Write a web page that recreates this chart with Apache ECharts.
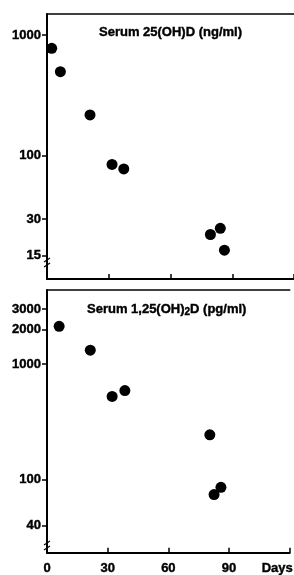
<!DOCTYPE html>
<html>
<head>
<meta charset="utf-8">
<script src="https://cdn.jsdelivr.net/npm/echarts@6/dist/echarts.min.js"></script>
<style>
  html, body { margin: 0; padding: 0; background: #fff; }
  #chart { width: 294px; height: 575px; }
</style>
</head>
<body>
<div id="chart"></div>
<script>
// serum 25(OH)D, ng/ml
const days25 = [2.3, 6.5, 20.9, 31.6, 37.3, 79.4, 84.2, 86.2]
const ohd25 = [776, 497, 218, 85, 78, 22.4, 25.2, 16.6]
// serum 1,25(OH)2D, pg/ml
const days125 = [6.0, 21.4, 32.2, 38.5, 80.5, 82.6, 86.0]
const ohd125 = [2128, 1322, 525, 590, 244, 74, 85.5]

const xTicks = [0, 30, 60, 90]
const yTicks25 = [15, 30, 100, 1000]
const yTicks125 = [40, 100, 1000, 2000, 3000]

const FONT = 'Liberation Sans'
const black = '#000'

// slightly heavier text, the original is a dense condensed bold
const textBase = {
  color: black, fontFamily: FONT, fontWeight: 'bold', fontSize: 13,
  textBorderColor: black, textBorderWidth: 0.4,
}

function pairs(xs, ys) {
  return xs.map((x, i) => [x, ys[i]])
}

function leftAxis(gridIndex, min, max, ticks) {
  return {
    type: 'log', logBase: 10, gridIndex, min, max, position: 'left',
    axisLine: { show: true, lineStyle: { color: black, width: 2 } },
    axisTick: { show: true, inside: false, length: 5, customValues: ticks, lineStyle: { color: black, width: 1.5 } },
    axisLabel: {
      show: true, customValues: ticks, margin: 6,
      ...textBase,
      formatter: (v) => String(Math.round(v)),
    },
    splitLine: { show: false },
    minorTick: { show: false },
  }
}

function rightAxis(gridIndex, min, max, ticks) {
  return {
    type: 'log', logBase: 10, gridIndex, min, max, position: 'right',
    axisLine: { show: false },
    axisTick: { show: true, inside: true, length: 5, customValues: ticks, lineStyle: { color: black, width: 1.5 } },
    axisLabel: { show: false },
    splitLine: { show: false },
  }
}

function bottomAxis(gridIndex, withLabels) {
  return {
    type: 'value', gridIndex, min: 0, max: 120, interval: 30, position: 'bottom',
    axisLine: { show: true, onZero: false, lineStyle: { color: black, width: 2 } },
    axisTick: { show: true, inside: true, length: 5, lineStyle: { color: black, width: 1.5 } },
    axisLabel: {
      show: withLabels, customValues: xTicks, margin: 9,
      ...textBase,
    },
    name: withLabels ? 'Days' : '',
    nameLocation: 'end',
    nameGap: -28,
    nameTextStyle: {
      ...textBase,
      verticalAlign: 'top', padding: [9, 0, 0, 0],
    },
    splitLine: { show: false },
  }
}

function topBorder(gridIndex) {
  return {
    type: 'value', gridIndex, min: 0, max: 120, position: 'top',
    axisLine: { show: true, onZero: false, lineStyle: { color: black, width: 1.5 } },
    axisTick: { show: false },
    axisLabel: { show: false },
    splitLine: { show: false },
  }
}

const titleStyle = { ...textBase }

const option = {
  backgroundColor: '#fff',
  animation: false,
  title: [
    {
      text: 'Serum 25(OH)D (ng/ml)',
      left: 99, top: 26, padding: 0,
      textStyle: titleStyle,
    },
    {
      text: '{a|Serum 1,25(OH)}{s|2}{a|D (pg/ml)}',
      left: 87, top: 302, padding: 0,
      textStyle: {
        ...titleStyle,
        rich: {
          a: { ...titleStyle, lineHeight: 15 },
          s: { ...titleStyle, fontSize: 10, lineHeight: 8, verticalAlign: 'bottom' },
        },
      },
    },
  ],
  grid: [
    { left: 47, right: 0, top: 14, height: 265 },
    { left: 47, right: 0, top: 290, height: 269 },
  ],
  xAxis: [bottomAxis(0, false), topBorder(0), bottomAxis(1, true), topBorder(1)],
  yAxis: [
    leftAxis(0, 9.6, 1490, yTicks25),
    rightAxis(0, 9.6, 1490, yTicks25),
    leftAxis(1, 23.1, 4400, yTicks125),
    rightAxis(1, 23.1, 4400, yTicks125),
  ],
  series: [
    {
      type: 'scatter', xAxisIndex: 0, yAxisIndex: 0,
      data: pairs(days25, ohd25),
      symbolSize: 11, itemStyle: { color: black, opacity: 1 },
    },
    {
      type: 'scatter', xAxisIndex: 2, yAxisIndex: 2,
      data: pairs(days125, ohd125),
      symbolSize: 11, itemStyle: { color: black, opacity: 1 },
    },
  ],
  // axis break marks on the left axes
  graphic: [
    { type: 'rect', shape: { x: 45, y: 260, width: 5, height: 5 }, style: { fill: '#fff' } },
    { type: 'line', shape: { x1: 44, y1: 262, x2: 50, y2: 258 }, style: { stroke: black, lineWidth: 1.2 } },
    { type: 'line', shape: { x1: 44, y1: 267, x2: 50, y2: 263 }, style: { stroke: black, lineWidth: 1.2 } },
    { type: 'rect', shape: { x: 45, y: 543, width: 5, height: 5 }, style: { fill: '#fff' } },
    { type: 'line', shape: { x1: 44, y1: 545, x2: 50, y2: 541 }, style: { stroke: black, lineWidth: 1.2 } },
    { type: 'line', shape: { x1: 44, y1: 550, x2: 50, y2: 546 }, style: { stroke: black, lineWidth: 1.2 } },
  ],
}

const chart = echarts.init(document.getElementById('chart'), null, { renderer: 'canvas' })
chart.setOption(option)
window.addEventListener('resize', () => chart.resize())
</script>
</body>
</html>
